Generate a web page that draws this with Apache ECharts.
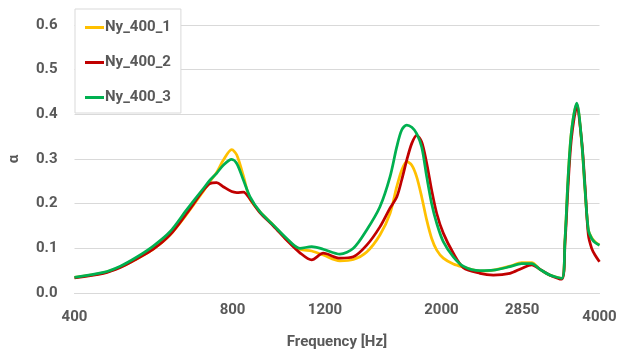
<!DOCTYPE html>
<html>
<head>
<meta charset="utf-8">
<script src="https://cdn.jsdelivr.net/npm/echarts@6/dist/echarts.min.js"></script>
<style>
  html, body { margin: 0; padding: 0; background: #fff; }
  #chart { width: 620px; height: 351px; }
</style>
</head>
<body>
<div id="chart"></div>
<script>
// frequencies (Hz)
const freqs = [400, 454, 489, 525, 565, 608, 654, 704, 725, 746, 768, 797, 815, 839, 864, 902, 957, 1015, 1075, 1132, 1191, 1281, 1359, 1441, 1527, 1596, 1644, 1680, 1718, 1756, 1794, 1834, 1875, 1916, 1959, 2016, 2107, 2201, 2368, 2511, 2701, 2843, 2971, 3081, 3219, 3389, 3438, 3489, 3540, 3620, 3700, 3754, 3809, 3865, 3922, 4000];

const ny400_1 = [0.035, 0.045, 0.058, 0.076, 0.098, 0.13, 0.176, 0.228, 0.25, 0.27, 0.297, 0.321, 0.309, 0.262, 0.21, 0.182, 0.152, 0.12, 0.098, 0.094, 0.085, 0.072, 0.075, 0.092, 0.13, 0.178, 0.238, 0.275, 0.294, 0.286, 0.26, 0.215, 0.163, 0.122, 0.096, 0.078, 0.065, 0.058, 0.049, 0.051, 0.06, 0.068, 0.068, 0.053, 0.04, 0.033, 0.119, 0.268, 0.365, 0.423, 0.335, 0.23, 0.141, 0.124, 0.115, 0.107];

const ny400_2 = [0.034, 0.044, 0.057, 0.076, 0.098, 0.13, 0.178, 0.23, 0.245, 0.247, 0.238, 0.227, 0.225, 0.226, 0.21, 0.18, 0.15, 0.118, 0.09, 0.074, 0.089, 0.078, 0.081, 0.107, 0.148, 0.19, 0.215, 0.253, 0.298, 0.335, 0.353, 0.338, 0.29, 0.23, 0.178, 0.134, 0.089, 0.057, 0.044, 0.04, 0.044, 0.055, 0.063, 0.053, 0.04, 0.031, 0.11, 0.25, 0.35, 0.415, 0.34, 0.24, 0.13, 0.1, 0.085, 0.07];

const ny400_3 = [0.035, 0.046, 0.06, 0.08, 0.105, 0.137, 0.186, 0.234, 0.253, 0.268, 0.286, 0.299, 0.29, 0.253, 0.215, 0.182, 0.152, 0.122, 0.1, 0.104, 0.098, 0.087, 0.1, 0.141, 0.193, 0.26, 0.327, 0.365, 0.376, 0.371, 0.357, 0.327, 0.26, 0.2, 0.156, 0.115, 0.081, 0.06, 0.05, 0.051, 0.059, 0.066, 0.066, 0.053, 0.04, 0.033, 0.119, 0.268, 0.365, 0.425, 0.338, 0.232, 0.141, 0.122, 0.113, 0.107];

const xTicks = [400, 800, 1200, 2000, 2850, 4000];

const FONT = "Roboto, sans-serif";
const GREY = "#595959";

const pairs = (ys) => freqs.map((f, i) => [f, ys[i]]);

const chart = echarts.init(document.getElementById("chart"));

const mkSeries = (name, ys, color) => ({
  name: name,
  type: "line",
  data: pairs(ys),
  smooth: 0.3,
  symbol: "none",
  lineStyle: { color: color, width: 2.75 },
  itemStyle: { color: color },
});

const txt = { fontFamily: FONT, fontSize: 15, fontWeight: "bold", color: GREY };

chart.setOption({
  animation: false,
  grid: {
    left: 74.5, right: 20.5, top: 25, bottom: 58,
    containLabel: false,
    outerBoundsMode: "none",
  },
  legend: {
    orient: "vertical",
    left: 75,
    top: 9,
    padding: [11, 10, 8, 10],
    icon: "rect",
    itemWidth: 19,
    itemHeight: 3,
    itemGap: 20,
    backgroundColor: "#fff",
    borderColor: "#d9d9d9",
    borderWidth: 1,
    textStyle: { ...txt, padding: [0, 0, 0, -4] },
    data: ["Ny_400_1", "Ny_400_2", "Ny_400_3"],
  },
  xAxis: {
    type: "log",
    logBase: 10,
    min: 400,
    max: 4000,
    name: "Frequency [Hz]",
    nameLocation: "middle",
    nameGap: 42,
    nameTextStyle: txt,
    axisLine: { lineStyle: { color: "#d9d9d9" } },
    axisTick: { show: false },
    splitLine: { show: false },
    minorSplitLine: { show: false },
    axisLabel: {
      ...txt,
      customValues: xTicks,
      margin: 10,
      formatter: (v) => (v === 400 || v === 4000 ? "{low|" + v + "}" : String(v)),
      rich: {
        low: { ...txt, padding: [7, 0, 0, 0] },
      },
    },
  },
  yAxis: {
    type: "value",
    min: 0,
    max: 0.6,
    interval: 0.1,
    name: "α",
    nameLocation: "middle",
    nameGap: 53,
    nameTextStyle: txt,
    axisLine: { show: false },
    axisTick: { show: false },
    splitLine: { lineStyle: { color: "#d9d9d9", width: 1 } },
    axisLabel: {
      ...txt,
      margin: 17,
      formatter: (v) => v.toFixed(1),
    },
  },
  series: [
    mkSeries("Ny_400_1", ny400_1, "#FFC000"),
    mkSeries("Ny_400_2", ny400_2, "#C00000"),
    mkSeries("Ny_400_3", ny400_3, "#00B050"),
  ],
});
</script>
</body>
</html>
